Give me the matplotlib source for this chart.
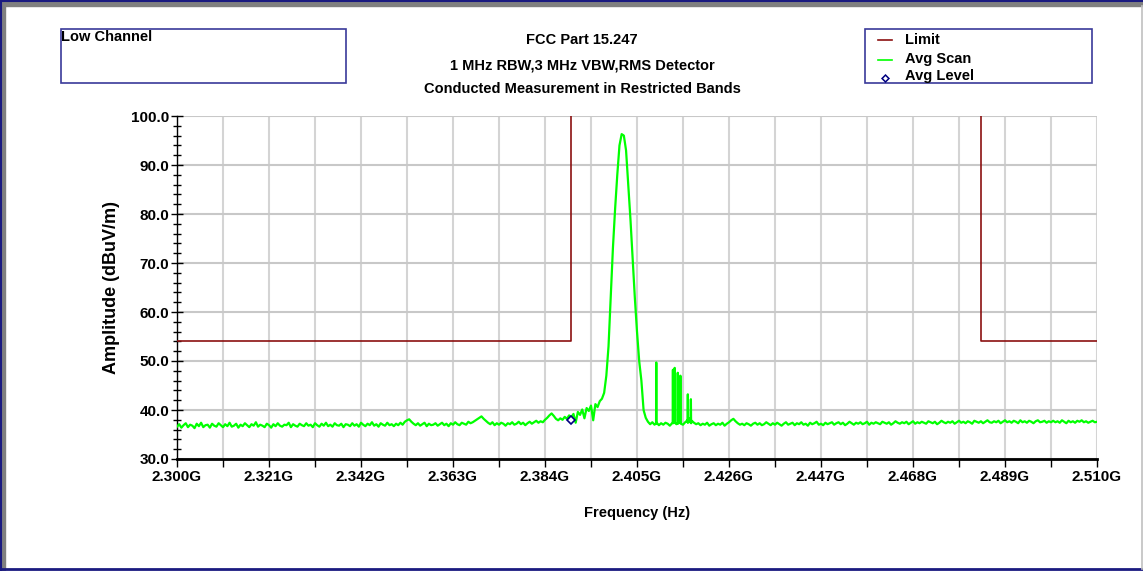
import numpy as np
import matplotlib
matplotlib.use('Agg')
import matplotlib.pyplot as plt
from matplotlib.patches import Rectangle
from matplotlib.lines import Line2D

# Avg Scan trace, 0.5 MHz steps from 2300 to 2510 MHz (dBuV/m)
scan_start, scan_step = 2300.0, 0.5
scan_amp = [
    36.6, 37.1, 36.4, 36.9, 37.3, 36.5, 37.0, 36.8, 36.3, 37.2, 36.7, 37.4, 36.5, 36.9, 37.0, 36.4, 37.2, 36.8, 36.6, 37.3,
    36.9, 36.5, 37.1, 36.7, 37.4, 36.6, 36.8, 37.2, 36.4, 37.0, 36.7, 37.3, 36.9, 36.5, 37.1, 36.8, 37.5, 36.6, 37.0, 36.8,
    36.5, 37.2, 36.9, 36.4, 37.1, 36.7, 37.3, 36.8, 36.6, 37.0, 36.9, 37.4, 36.5, 37.1, 36.8, 36.6, 37.2, 36.9, 36.7, 37.3,
    36.8, 37.0, 36.5, 37.3, 36.9, 36.6, 37.2, 36.8, 37.4, 36.7, 37.0, 36.6, 37.3, 36.9, 36.8, 37.2, 36.5, 37.1, 37.0, 36.7,
    37.3, 36.8, 37.1, 36.6, 37.4, 37.0, 36.7, 37.2, 36.9, 37.5, 36.8, 37.1, 36.6, 37.3, 37.0, 36.8, 37.4, 36.9, 37.1, 36.7,
    37.2, 36.9, 37.4, 37.0, 37.6, 37.9, 38.1, 37.6, 37.2, 36.9, 37.3, 36.8, 37.1, 37.4, 36.7, 37.2, 36.9, 37.0, 37.3, 36.8,
    37.1, 37.4, 36.9, 37.2, 36.7, 37.3, 37.0, 37.5, 37.1, 36.9, 37.4, 37.2, 37.0, 37.6, 37.3, 37.5, 37.8, 38.1, 38.4, 38.7,
    38.2, 37.8, 37.4, 37.1, 37.5, 36.9, 37.3, 37.0, 37.4, 37.2, 36.8, 37.3, 37.1, 37.5, 37.0, 37.2, 37.6, 37.1, 37.4, 36.9,
    37.3, 37.6, 37.2, 37.5, 37.8, 37.4, 37.7, 37.5, 38.0, 38.4, 38.9, 39.3, 38.8, 38.2, 37.9, 38.3, 38.0, 38.6, 38.2, 38.9,
    38.5, 39.2, 37.4, 39.6, 39.0, 40.1, 38.3, 40.4, 39.8, 40.9, 37.9, 41.2, 40.6, 41.8, 42.3, 43.5, 47.0, 53.0, 63.0, 73.0,
    81.0, 88.0, 94.0, 96.3, 96.0, 93.0, 86.0, 79.0, 71.0, 63.0, 56.0, 50.0, 46.0, 40.0, 38.4, 37.6, 37.1, 37.5, 37.0, 37.4,
    36.9, 37.3, 37.0, 37.4, 37.2, 36.8, 37.3, 37.5, 37.1, 37.4, 37.2, 37.0, 37.5, 37.9, 38.3, 37.8, 37.4, 37.1, 37.3, 36.9,
    37.2, 37.0, 37.4, 36.8, 37.1, 37.3, 36.9, 37.2, 37.0, 37.4, 36.8, 37.2, 37.5, 37.9, 38.2, 37.7, 37.3, 37.0, 37.2, 36.9,
    37.3, 37.1, 36.8, 37.2, 37.4, 37.0, 37.3, 36.9, 37.1, 37.5, 37.2, 36.9, 37.3, 37.0, 37.4, 37.1, 36.8, 37.2, 37.5, 37.0,
    37.2, 37.4, 36.9, 37.3, 37.1, 37.5, 37.0, 37.2, 36.8, 37.4, 37.1, 37.3, 37.6, 37.0, 37.2, 36.9, 37.4, 37.1, 37.3, 37.5,
    37.0, 37.3, 37.5, 37.1, 37.4, 36.9, 37.2, 37.6, 37.3, 37.0, 37.4, 37.2, 37.5, 37.1, 37.3, 37.6, 37.0, 37.4, 37.2, 37.5,
    37.3, 37.1, 37.6, 37.4, 37.2, 37.5, 37.0, 37.3, 37.7, 37.4, 37.2, 37.5, 37.3, 37.6, 37.1, 37.4, 37.7, 37.2, 37.5, 37.3,
    37.6, 37.4, 37.2, 37.7, 37.5, 37.3, 37.6, 37.1, 37.4, 37.8, 37.5, 37.3, 37.6, 37.4, 37.7, 37.2, 37.5, 37.8, 37.4, 37.6,
    37.3, 37.7, 37.5, 37.2, 37.8, 37.6, 37.4, 37.7, 37.3, 37.6, 37.9, 37.5, 37.4, 37.7, 37.5, 37.8, 37.3, 37.6, 37.9, 37.5,
    37.7, 37.4, 37.8, 37.6, 37.3, 37.9, 37.5, 37.7, 37.4, 37.8, 37.6, 37.3, 37.7, 37.9, 37.5, 37.6, 37.8, 37.4, 37.7, 37.5,
    37.8, 37.5, 37.7, 37.4, 37.9, 37.6, 37.3, 37.8, 37.5, 37.7, 37.4, 37.8, 37.6, 37.9, 37.5, 37.7, 37.4, 37.6, 37.8, 37.5,
    37.6,
]

# narrow spurs above the carrier (MHz, dBuV/m)
spur_f = [2409.35, 2409.4, 2409.45, 2413.15, 2413.2, 2413.25, 2413.55, 2413.6, 2413.65,
          2414.25, 2414.3, 2414.35, 2414.85, 2414.9, 2414.95, 2416.55, 2416.6, 2416.65,
          2417.25, 2417.3, 2417.35]
spur_amp = [37.3, 49.7, 37.2, 37.4, 48.2, 37.3, 37.5, 48.6, 37.4,
            37.3, 47.6, 37.2, 37.4, 47.0, 37.3, 37.5, 43.2, 37.4,
            37.4, 42.2, 37.3]

# limit line (restricted bands)
limit_left_f = [2300, 2390, 2390]
limit_left_amp = [54, 54, 101]
limit_right_f = [2483.5, 2483.5, 2510]
limit_right_amp = [101, 54, 54]

# avg level marker
level_f = [2390.0]
level_amp = [38.0]

x_ticks = [2300, 2321, 2342, 2363, 2384, 2405, 2426, 2447, 2468, 2489, 2510]
y_ticks = [30, 40, 50, 60, 70, 80, 90, 100]

W, H = 1143, 571
def fx(px):
    return px / W
def fy(py):
    return 1 - py / H

plt.rcParams['font.family'] = ['Liberation Sans', 'DejaVu Sans']
plt.rcParams['font.weight'] = 'bold'

scan_f = scan_start + scan_step * np.arange(len(scan_amp))
all_f = np.concatenate([scan_f, spur_f])
all_amp = np.concatenate([scan_amp, spur_amp])
order = np.argsort(all_f, kind='stable')

fig = plt.figure(figsize=(W / 100, H / 100), dpi=100)
ax = fig.add_axes([fx(177), fy(459), fx(1097) - fx(177), (459 - 116) / H])

ax.plot(all_f[order], all_amp[order], color='#00ff00', lw=1.6, zorder=3)
ax.plot(limit_left_f, limit_left_amp, color='#8b1010', lw=1.2, zorder=4)
ax.plot(limit_right_f, limit_right_amp, color='#8b1010', lw=1.2, zorder=4)
ax.plot(level_f, level_amp, linestyle='none', marker='D', markersize=4,
        markerfacecolor='white', markeredgecolor='#000080', markeredgewidth=1.2, zorder=5)

ax.set_xlim(2300, 2510)
ax.set_ylim(30, 100)
ax.set_xticks(x_ticks)
ax.set_xticklabels([f'{t / 1000:.3f}G' for t in x_ticks])
ax.set_xticks([t + 10.5 for t in x_ticks[:-1]], minor=True)
ax.set_yticks(y_ticks)
ax.set_yticklabels([f'{t:.1f}' for t in y_ticks])
ax.set_yticks(np.arange(30, 101, 2), minor=True)

ax.grid(True, axis='x', which='both', color='#d4d4d4', lw=1.5, zorder=0)
ax.grid(True, axis='y', which='major', color='#c8c8c8', lw=1.5, zorder=0)
ax.set_axisbelow(True)

for s in ['top', 'right']:
    ax.spines[s].set_visible(False)
ax.spines['bottom'].set_linewidth(2)
ax.spines['left'].set_linewidth(1)

ax.tick_params(axis='y', which='major', direction='inout', length=9, width=1, labelsize=11, pad=1)
ax.tick_params(axis='y', which='minor', direction='inout', length=6, width=1)
ax.tick_params(axis='x', which='both', direction='out', length=6, width=1, labelsize=11, pad=2)

ax.set_xlabel('Frequency (Hz)', fontsize=10.5, fontweight='bold', labelpad=16)
ax.set_ylabel('Amplitude (dBuV/m)', fontsize=13, fontweight='bold')
ax.yaxis.set_label_coords(-57 / 920, 0.5)

# titles
fig.text(fx(582), fy(40), 'FCC Part 15.247', ha='center', va='center', fontsize=10.5)
fig.text(fx(582), fy(65), '1 MHz RBW,3 MHz VBW,RMS Detector', ha='center', va='center', fontsize=10.5)
fig.text(fx(582), fy(89), 'Conducted Measurement in Restricted Bands', ha='center', va='center', fontsize=10.5)

# boxes
box_col = '#3a3a9a'
fig.patches.append(Rectangle((fx(61), fy(83)), fx(346) - fx(61), (83 - 29) / H,
                             transform=fig.transFigure, fill=False, edgecolor=box_col, lw=1.2))
fig.text(fx(61), fy(37), 'Low Channel', ha='left', va='center', fontsize=10.5)

fig.patches.append(Rectangle((fx(865), fy(83)), fx(1092) - fx(865), (83 - 29) / H,
                             transform=fig.transFigure, fill=False, edgecolor=box_col, lw=1.2))
fig.lines.append(Line2D([fx(878), fx(892)], [fy(40), fy(40)], transform=fig.transFigure,
                        color='#8b1010', lw=1.2))
fig.lines.append(Line2D([fx(878), fx(892)], [fy(60), fy(60)], transform=fig.transFigure,
                        color='#00ff00', lw=1.2))
fig.lines.append(Line2D([fx(885)], [fy(78)], transform=fig.transFigure, linestyle='none',
                        marker='D', markersize=3.5, markerfacecolor='white',
                        markeredgecolor='#000080', markeredgewidth=1.1))
fig.text(fx(905), fy(40), 'Limit', ha='left', va='center', fontsize=10.5)
fig.text(fx(905), fy(59), 'Avg Scan', ha='left', va='center', fontsize=10.5)
fig.text(fx(905), fy(76), 'Avg Level', ha='left', va='center', fontsize=10.5)

# window frame
fig.patches.append(Rectangle((0, 0), fx(5), 1, transform=fig.transFigure, color='#808080', zorder=0))
fig.patches.append(Rectangle((0, fy(6)), 1, 6 / H, transform=fig.transFigure, color='#808080', zorder=0))
fig.lines.append(Line2D([fx(0.5), fx(0.5)], [0, 1], transform=fig.transFigure, color='#1a1a80', lw=1.5))
fig.lines.append(Line2D([0, 1], [fy(0.5), fy(0.5)], transform=fig.transFigure, color='#1a1a80', lw=1.5))
fig.lines.append(Line2D([0, 1], [fy(569), fy(569)], transform=fig.transFigure, color='#1a1a80', lw=2))
fig.lines.append(Line2D([fx(1141.5), fx(1141.5)], [fy(569), fy(6)], transform=fig.transFigure,
                        color='#c0c0c0', lw=1.2))

fig.savefig('out.png', dpi=100)
